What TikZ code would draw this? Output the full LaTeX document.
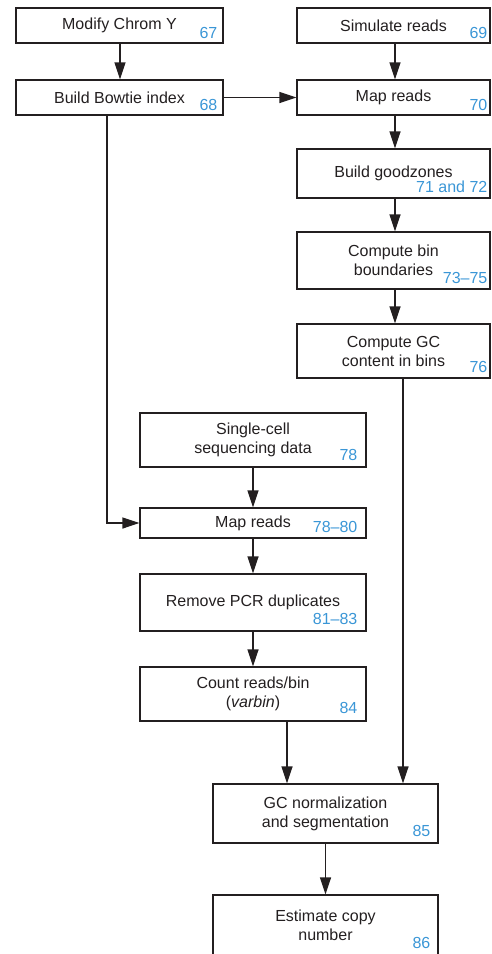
\documentclass[tikz,border=0pt]{standalone}
\usepackage{fontspec}
\setmainfont{Liberation Sans}
\usetikzlibrary{arrows.meta,calc}
\definecolor{ink}{RGB}{35,31,32}
\definecolor{refblue}{RGB}{58,150,214}
\tikzset{
  box/.style={draw=ink, line width=1.1pt, rectangle, inner sep=0pt, align=center,
    font=\fontsize{16}{19}\selectfont, text=ink},
  num/.style={anchor=base east, inner sep=0pt, text=refblue,
    font=\fontsize{16}{19}\selectfont},
  arr/.style={draw=ink, line width=1.3pt, -{Triangle[length=17pt,width=11pt]}},
}
\begin{document}
\begin{tikzpicture}[x=1pt,y=-1pt]
\useasboundingbox (0,0) rectangle (492,954);
\clip (0,0) rectangle (492,954);

% right-hand column of steps
\node[box, minimum width=207, minimum height=35] (b1) at (119.5,25.5) {Modify Chrom Y};
\node[box, minimum width=207, minimum height=35] (b2) at (119.5,97.5) {Build Bowtie index};
\node[box, minimum width=193, minimum height=35] (b3) at (393.5,25.5) {Simulate reads};
\node[box, minimum width=193, minimum height=35] (b4) at (393.5,97.5) {Map reads};
\node[box, minimum width=193, minimum height=49] (b5) at (393.5,173.5) {Build goodzones};
\node[box, minimum width=193, minimum height=57] (b6) at (393.5,260.5) {Compute bin\\boundaries};
\node[box, minimum width=193, minimum height=54] (b7) at (393.5,351) {Compute GC\\content in bins};

% single-cell column
\node[box, minimum width=226, minimum height=54] (b8) at (253,440) {Single-cell\\sequencing data};
\node[box, minimum width=226, minimum height=30] (b9) at (253,523) {Map reads};
\node[box, minimum width=226, minimum height=57] (b10) at (253,602.5) {Remove PCR duplicates};
\node[box, minimum width=226, minimum height=54] (b11) at (253,694) {Count reads/bin\\(\textit{varbin})};

% final steps
\node[box, minimum width=225, minimum height=59] (b12) at (325.5,813.5) {GC normalization\\and segmentation};
\node[box, minimum width=225, minimum height=61] (b13) at (325.5,925.5) {Estimate copy\\number};

% step numbers
\node[num] at ([shift={(-6,-5)}]b1.south east) {67};
\node[num] at ([shift={(-6,-5)}]b2.south east) {68};
\node[num] at ([shift={(-3,-5)}]b3.south east) {69};
\node[num] at ([shift={(-3,-5)}]b4.south east) {70};
\node[num] at ([shift={(-3,-6)}]b5.south east) {71 and 72};
\node[num] at ([shift={(-3,-6)}]b6.south east) {73--75};
\node[num] at ([shift={(-3,-6)}]b7.south east) {76};
\node[num] at ([shift={(-9,-7)}]b8.south east) {78};
\node[num] at ([shift={(-9,-6)}]b9.south east) {78--80};
\node[num] at ([shift={(-9,-7)}]b10.south east) {81--83};
\node[num] at ([shift={(-9,-8)}]b11.south east) {84};
\node[num] at ([shift={(-8,-7)}]b12.south east) {85};
\node[num] at ([shift={(-8,-8)}]b13.south east) {86};

% connector columns
\coordinate (xl) at (120,0);
\coordinate (xr) at (395,0);
\coordinate (xb) at (107,0);
\coordinate (xg) at (403,0);
\coordinate (xc) at (287,0);

% connectors
\draw[arr] (b1.south -| xl) -- (b2.north -| xl);
\draw[arr] (b3.south -| xr) -- (b4.north -| xr);
\draw[arr] (b2.east) -- (b4.west);
\draw[arr] (b4.south -| xr) -- (b5.north -| xr);
\draw[arr] (b5.south -| xr) -- (b6.north -| xr);
\draw[arr] (b6.south -| xr) -- (b7.north -| xr);
\draw[arr] (b2.south -| xb) |- (b9.west);
\draw[arr] (b8.south) -- (b9.north);
\draw[arr] (b9.south) -- (b10.north);
\draw[arr] (b10.south) -- (b11.north);
\draw[arr] (b11.south -| xc) -- (b12.north -| xc);
\draw[arr] (b7.south -| xg) -- (b12.north -| xg);
\draw[arr] (b12.south) -- (b13.north);
\end{tikzpicture}
\end{document}
